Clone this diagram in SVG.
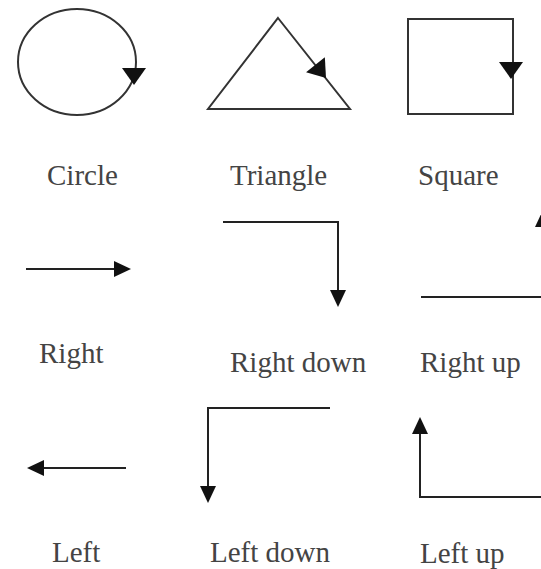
<svg xmlns="http://www.w3.org/2000/svg" width="541" height="569" viewBox="0 0 541 569">
<style>
.ln{fill:none;stroke:#222;stroke-width:2}
.shape{fill:none;stroke:#333;stroke-width:2}
.hd{fill:#111}
.lbl{font-family:"Liberation Serif","Times New Roman",serif;font-size:29px;fill:#444}
</style>
<defs>
<path id="hs" d="M0,0 L-17,-8 L-17,8 Z"/>
<path id="hb" d="M0,0 L-17,-12 L-17,12 Z"/>
</defs>
<rect width="541" height="569" fill="#fff"/>
<g id="circle">
<ellipse class="shape" cx="77" cy="62" rx="59" ry="53"/>
<use href="#hb" class="hd" transform="translate(134,85) rotate(90)"/>
<text class="lbl" x="47" y="185">Circle</text>
</g>
<g id="triangle">
<polygon class="shape" points="278,18 350,109 208,109"/>
<use href="#hb" class="hd" transform="translate(326,78) rotate(51.6)"/>
<text class="lbl" x="230" y="185">Triangle</text>
</g>
<g id="square">
<rect class="shape" x="408" y="19" width="105" height="95"/>
<use href="#hb" class="hd" transform="translate(511,79) rotate(90)"/>
<text class="lbl" x="418" y="185">Square</text>
</g>
<g id="connectors">
<path class="ln" d="M26,269 H115"/>
<use href="#hs" class="hd" transform="translate(131,269)"/>
<path class="ln" d="M223,222 H338 V292"/>
<use href="#hs" class="hd" transform="translate(338,307) rotate(90)"/>
<path class="ln" d="M421,297 H543 V226"/>
<use href="#hs" class="hd" transform="translate(543,210) rotate(-90)"/>
<path class="ln" d="M126,468 H43"/>
<use href="#hs" class="hd" transform="translate(27,468) rotate(180)"/>
<path class="ln" d="M330,408 H208 V488"/>
<use href="#hs" class="hd" transform="translate(208,503) rotate(90)"/>
<path class="ln" d="M541,497 H420 V432"/>
<use href="#hs" class="hd" transform="translate(420,417) rotate(-90)"/>
</g>
<g id="right"><text class="lbl" x="39" y="363">Right</text></g>
<g id="right-down"><text class="lbl" x="230" y="372">Right down</text></g>
<g id="right-up"><text class="lbl" x="420" y="372">Right up</text></g>
<g id="left"><text class="lbl" x="52" y="562">Left</text></g>
<g id="left-down"><text class="lbl" x="210" y="562">Left down</text></g>
<g id="left-up"><text class="lbl" x="420" y="563">Left up</text></g>
</svg>
